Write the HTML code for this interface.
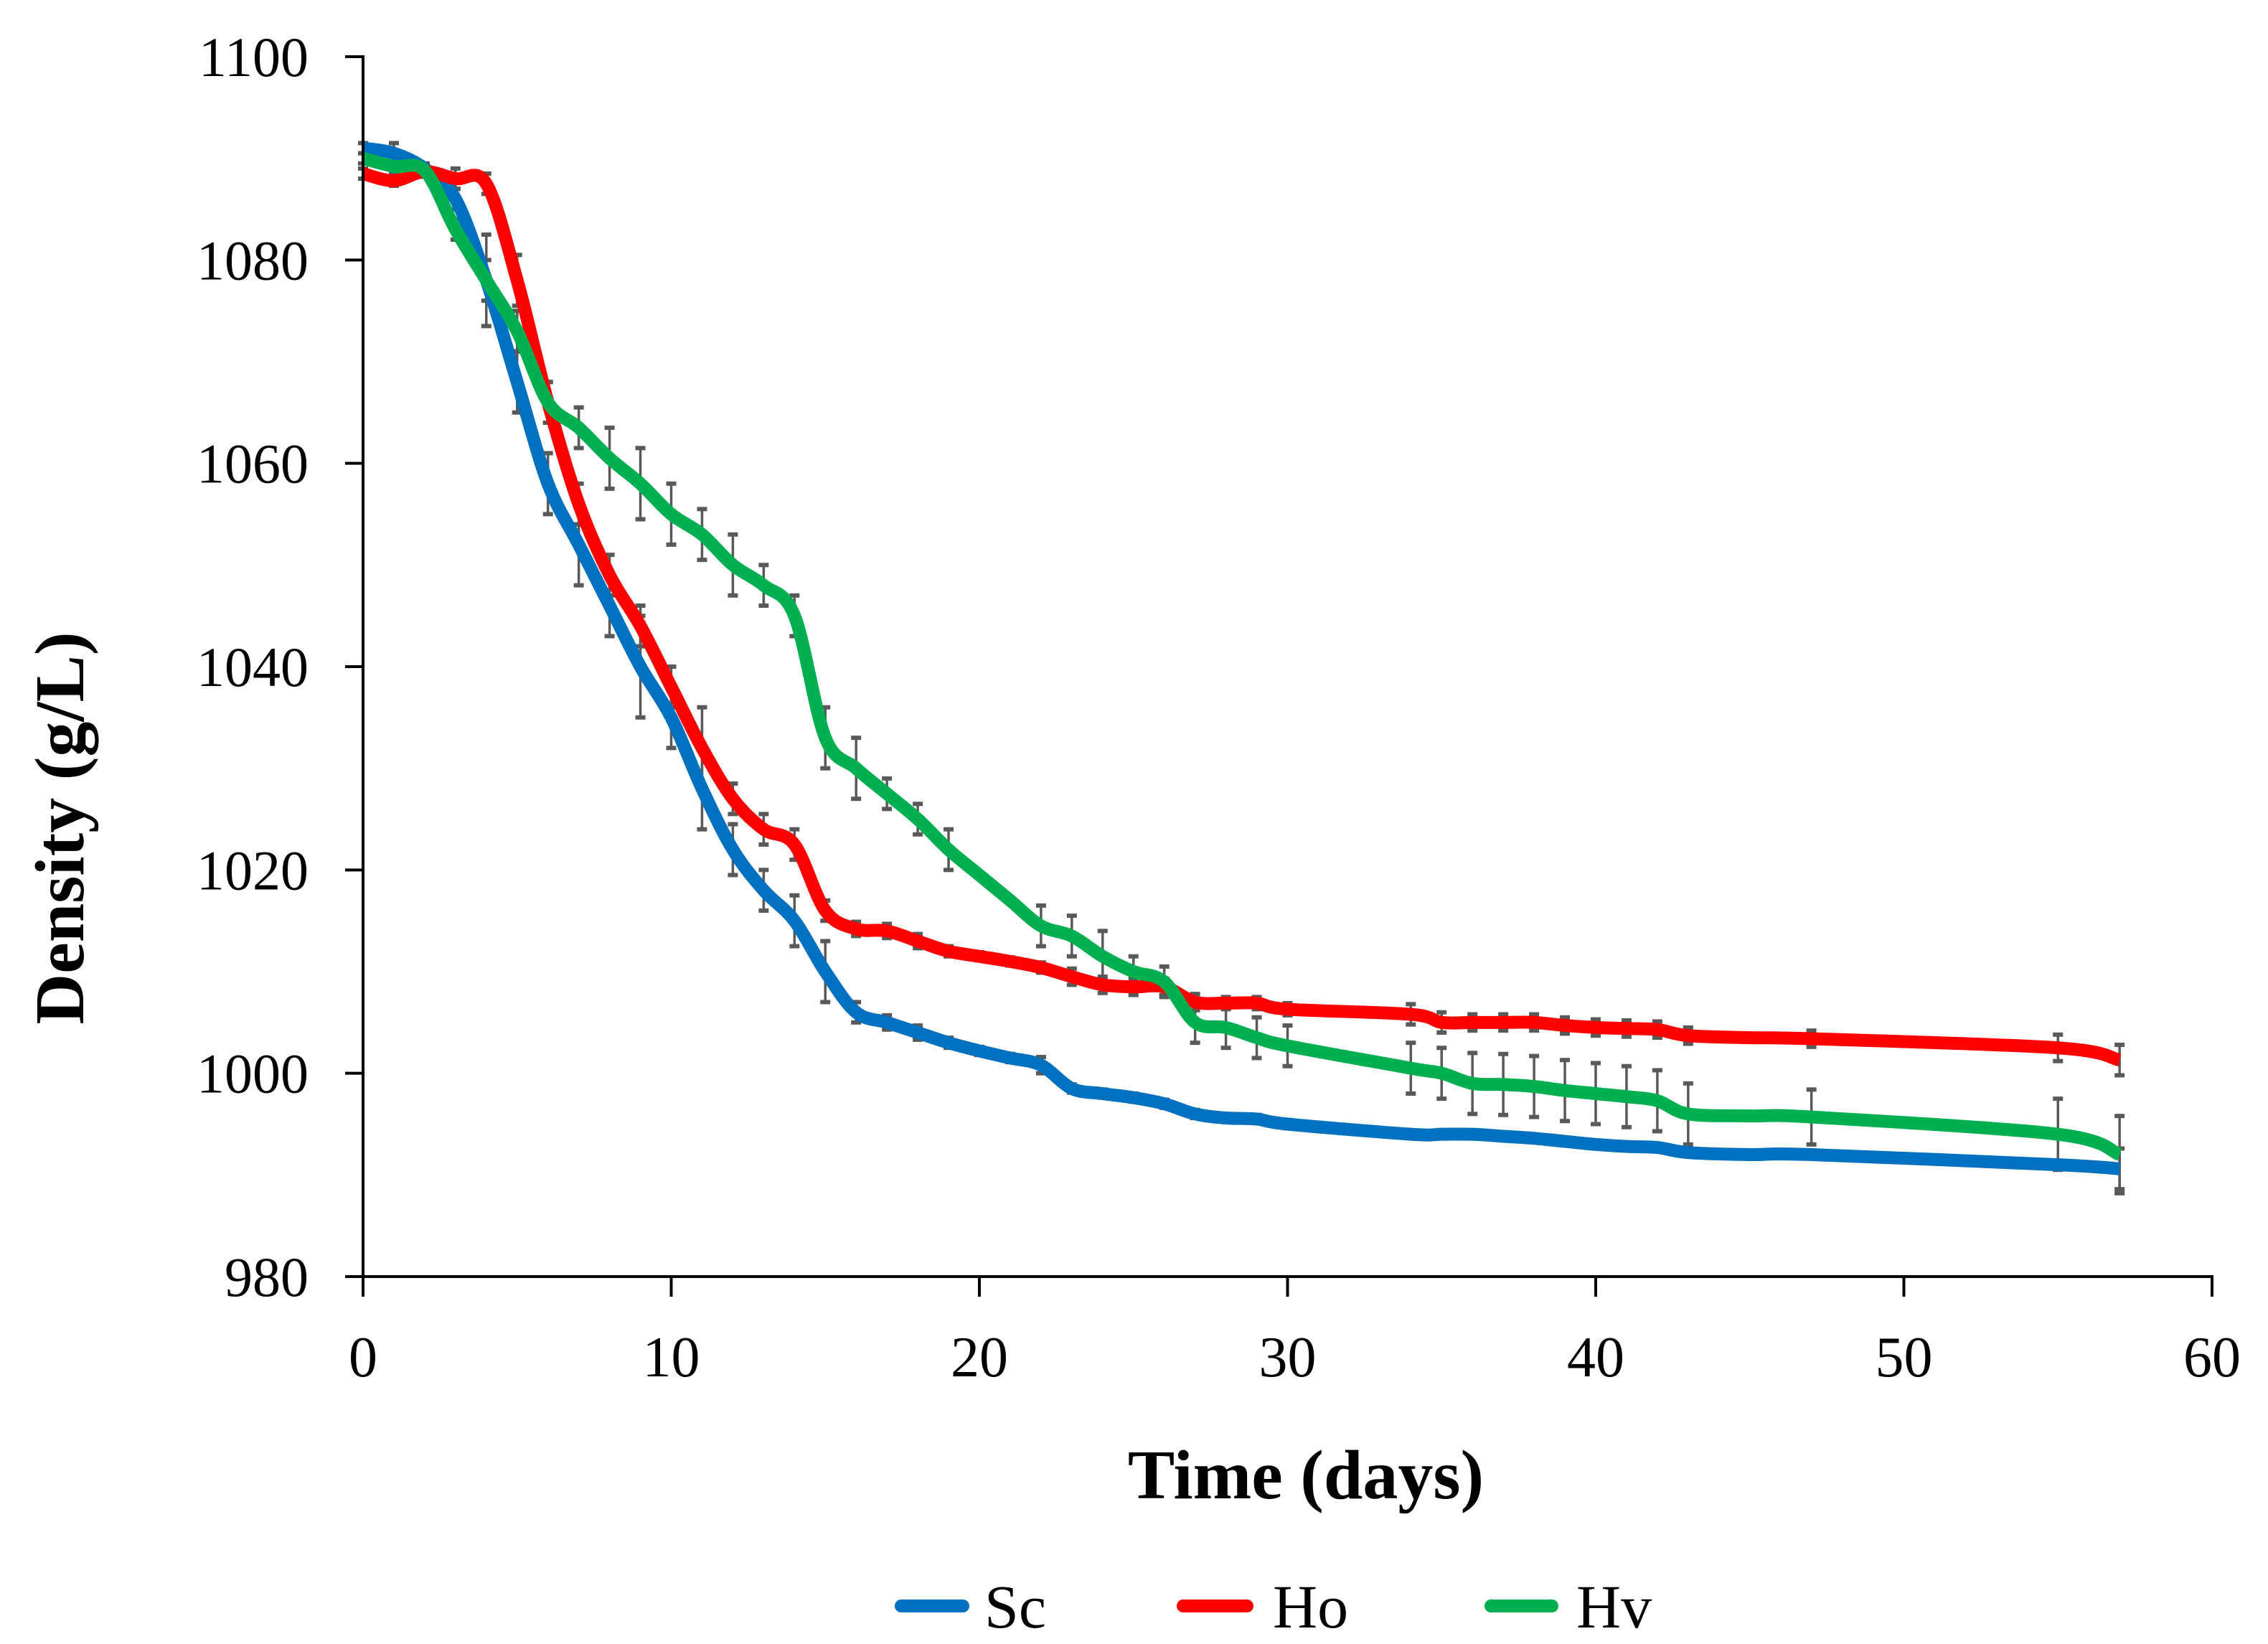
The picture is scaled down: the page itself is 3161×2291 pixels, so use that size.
<!DOCTYPE html>
<html><head><meta charset="utf-8"><style>
html,body{margin:0;padding:0;background:#fff;}
svg{display:block;font-family:"Liberation Serif",serif;}
</style></head><body>
<svg id="chart" width="3161" height="2291" viewBox="0 0 3161 2291" xmlns="http://www.w3.org/2000/svg">
<g id="bars"></g>
<g id="lines"></g>
<g id="axes"></g>
<text x="1820" y="2088" font-size="98" font-weight="bold" text-anchor="middle">Time (days)</text>
<text transform="translate(116,1154) rotate(-90)" font-size="98" font-weight="bold" text-anchor="middle">Density (g/L)</text>
<g>
  <g><line x1="1256" y1="2238" x2="1342" y2="2238" stroke="#0070C0" stroke-width="18" stroke-linecap="round"/><text x="1372" y="2268" font-size="86">Sc</text></g>
  <g><line x1="1649" y1="2238" x2="1738" y2="2238" stroke="#FF0000" stroke-width="18" stroke-linecap="round"/><text x="1774" y="2268" font-size="86">Ho</text></g>
  <g><line x1="2078" y1="2238" x2="2163" y2="2238" stroke="#00B050" stroke-width="18" stroke-linecap="round"/><text x="2197" y="2268" font-size="86">Hv</text></g>
</g>
</svg>
<script>
const days = [0,1,2,3,4,5,6,7,8,9,10,11,12,13,14,15,16,17,18,19,20,21,22,23,24,25,26,27,28,29,30,34,35,36,37,38,39,40,41,42,43,45,47,55,57];
const scValues = [1091,1090.5,1089,1086,1078,1068,1058,1052,1046,1040,1035,1028,1022,1018,1015,1010,1006,1005,1004,1003,1002.2,1001.5,1000.8,998.5,998,997.6,997,996,995.6,995.5,995,994,994,994,993.8,993.6,993.3,993,992.8,992.7,992.2,992,992,991,990.6];
const hoValues = [1088.5,1087.8,1088.7,1088,1087.5,1078,1066,1056,1049,1044,1038,1032,1027,1024,1022.5,1016,1014.2,1014,1013,1012,1011.5,1011,1010.4,1009.5,1008.7,1008.5,1008.5,1007,1006.9,1006.9,1006.3,1005.8,1005,1005,1005,1005,1004.7,1004.5,1004.4,1004.3,1003.7,1003.5,1003.4,1002.5,1001.3];
const hvValues = [1090,1089.2,1088.8,1083,1078,1073,1066,1063.5,1060.5,1058,1055,1053,1050,1048,1045,1033,1030,1027.5,1025,1022,1019.5,1017,1014.5,1013.5,1011.5,1010,1009,1005,1004.5,1003.5,1002.7,1000.5,1000,999,998.9,998.7,998.3,998,997.7,997.3,996,995.8,995.7,994,992];
const scErr = [0.5,1,0.5,1,4.5,3,3,4,3,5,3,4,2.5,2,2.5,3,1,0.7,0.7,0.5,0.4,0.4,0.8,0.4,0.4,0.4,0.4,0.4,0.4,0.4,0.4,0.3,0.3,0.3,0.3,0.3,0.3,0.3,0.3,0.3,0.3,0,0,0,2];
const hoErr = [0.5,0.5,0.5,1,1,2.5,2,2,2,2,2,4,1.5,1.5,1.5,1,0.7,0.7,0.7,0.5,0.4,0.4,0.5,0.8,0.8,0.8,0.8,0.8,0.6,0.6,0.6,1,1,0.8,0.8,0.8,0.8,0.8,0.8,0.8,0.8,0,0.8,1.3,1.5];
const hvErr = [0.5,0.5,0.5,1,2,2,2,2,3,3.5,3,2.5,3,2,2,3,3,1.5,1.5,2,0,0,2,2,2.5,1.5,1.5,2,2,2,2,2.5,2.5,3,3,3,3,3,3,3,3,0,2.7,3.5,3.8];
const yTicks = [980,1000,1020,1040,1060,1080,1100];
const xTicks = [0,10,20,30,40,50,60];

const NS='http://www.w3.org/2000/svg';
const X0=506,X1=3083,Y0=1779,Y1=79;
function xs(d){return X0+(d-0)/(60-0)*(X1-X0);}
function ys(v){return Y0-(v-980)/(1100-980)*(Y0-Y1);}
function mk(t,a,p){const e=document.createElementNS(NS,t);for(const k in a)e.setAttribute(k,a[k]);p.appendChild(e);return e;}

const bars=document.getElementById('bars');
[[scValues,scErr,'sc'],[hoValues,hoErr,'ho'],[hvValues,hvErr,'hv']].forEach(([vals,errs,n])=>{
  days.forEach((d,i)=>{
    if(!errs[i])return;
    const g=mk('g',{},bars);
    
    
    const x=xs(d),a=ys(vals[i]+errs[i]),b=ys(vals[i]-errs[i]);
    mk('line',{x1:x,y1:a,x2:x,y2:b,stroke:'#595959','stroke-width':3.5},g);
    mk('line',{x1:x-7,y1:a,x2:x+7,y2:a,stroke:'#595959','stroke-width':6},g);
    mk('line',{x1:x-7,y1:b,x2:x+7,y2:b,stroke:'#595959','stroke-width':6},g);
  });
});

function smooth(pts){
  let s='M'+pts[0][0]+','+pts[0][1];
  for(let i=0;i<pts.length-1;i++){
    const p0=pts[Math.max(0,i-1)],p1=pts[i],p2=pts[i+1],p3=pts[Math.min(pts.length-1,i+2)];
    const t=0.5/3;
    const c1=[p1[0]+(p2[0]-p0[0])*t,p1[1]+(p2[1]-p0[1])*t];
    const c2=[p2[0]-(p3[0]-p1[0])*t,p2[1]-(p3[1]-p1[1])*t];
    s+=' C'+c1[0]+','+c1[1]+' '+c2[0]+','+c2[1]+' '+p2[0]+','+p2[1];
  }
  return s;
}
const lines=document.getElementById('lines');
[[scValues,'#0070C0','sc'],[hoValues,'#FF0000','ho'],[hvValues,'#00B050','hv']].forEach(([vals,c,n])=>{
  const p=mk('path',{d:smooth(days.map((d,i)=>[xs(d),ys(vals[i])])),fill:'none',stroke:c,'stroke-width':18,'stroke-linejoin':'round'},lines);
  
  
});

const axes=document.getElementById('axes');
const ya=mk('line',{x1:X0,y1:Y1-2,x2:X0,y2:Y0,stroke:'#000','stroke-width':4},axes);


const xa=mk('line',{x1:X0-2,y1:Y0,x2:X1+2,y2:Y0,stroke:'#000','stroke-width':4},axes);


yTicks.forEach(v=>{
  mk('line',{x1:X0-25,y1:ys(v),x2:X0,y2:ys(v),stroke:'#000','stroke-width':4},axes);
  const t=mk('text',{x:430,y:ys(v)+27,'font-size':78,'text-anchor':'end'},axes);
  t.textContent=v;
  
  
});
xTicks.forEach(v=>{
  mk('line',{x1:xs(v),y1:Y0,x2:xs(v),y2:Y0+28,stroke:'#000','stroke-width':4},axes);
  const t=mk('text',{x:xs(v),y:1918,'font-size':80,'text-anchor':'middle'},axes);
  t.textContent=v;
  
  
});
</script>
</body></html>
